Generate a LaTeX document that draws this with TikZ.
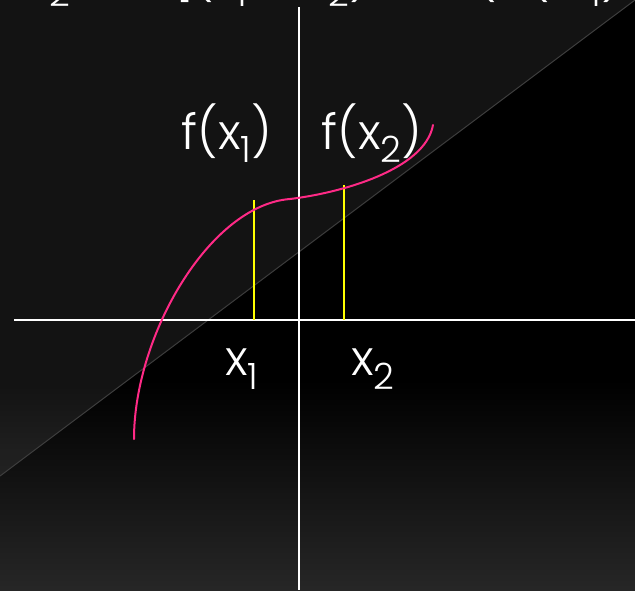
\documentclass[tikz,border=0pt]{standalone}
\usepackage{fontspec}
\IfFontExistsTF{Poppins Light}{\setmainfont{Poppins Light}}{\setmainfont{Poppins}}
\definecolor{curvepink}{HTML}{FF2A86}
\definecolor{ylw}{HTML}{FFFF00}
\newcommand{\sbs}[1]{\raisebox{-0.28em}{\scalebox{0.74}{#1}}}
\tikzset{
  lbl/.style={text=white, inner sep=0pt, font=\fontsize{49}{52}\selectfont},
  toplbl/.style={text=white, inner sep=0pt, anchor=base west, font=\fontsize{49}{52}\selectfont},
  axis/.style={draw=white, line width=2pt},
  mark line/.style={draw=ylw, line width=2pt},
  fcurve/.style={draw=curvepink, line width=2pt, line cap=round}
}
\begin{document}
\begin{tikzpicture}[x=1pt, y=-1pt]
\useasboundingbox (0,0) rectangle (635,590);
\clip (0,0) rectangle (635,590);
% background
\fill[black] (0,0) rectangle (635,590);
\shade[top color=black, bottom color=black!85!white] (0,380) rectangle (635,590);
\fill[white, opacity=0.075] (0,0) -- (635,0) -- (0,476) -- cycle;
\coordinate (dA) at (0,476);
\coordinate (dB) at (635,0);
\draw[draw=white!24!black, line width=1pt] (dA) -- (dB);
% clipped top text line
\node[toplbl] (t1) at (27,-7) {x\sbs{2}};
\node[toplbl] (t2) at (175,-7) {[(x\sbs{1} + x\sbs{2})};
\node[toplbl] (t3) at (476,-7) {(a(tx\sbs{1})};
% axes
\coordinate (xl) at (14,320);
\coordinate (xr) at (635,320);
\coordinate (yt) at (299,7);
\coordinate (yb) at (299,590);
\draw[axis] (xl) -- (xr);
\draw[axis] (yt) -- (yb);
% yellow marks
\coordinate (m1t) at (254,200);
\coordinate (m1b) at (254,320);
\coordinate (m2t) at (344,185);
\coordinate (m2b) at (344,320);
\draw[mark line] (m1t) -- (m1b);
\draw[mark line] (m2t) -- (m2b);
% curve
\coordinate (c0) at (134,439);
\coordinate (c1) at (290,199);
\coordinate (c2) at (433,125);
\draw[fcurve] (c0) .. controls (134,335) and (210,205) .. (c1)
                   .. controls (340,193) and (425,170) .. (c2);
% labels
\node[lbl] (fx1) at (227,133) {f(x\sbs{1})};
\node[lbl] (fx2) at (372,133) {f(x\sbs{2})};
\node[lbl] (x1) at (242,369) {x\sbs{1}};
\node[lbl] (x2) at (373,369) {x\sbs{2}};
\end{tikzpicture}
\end{document}
